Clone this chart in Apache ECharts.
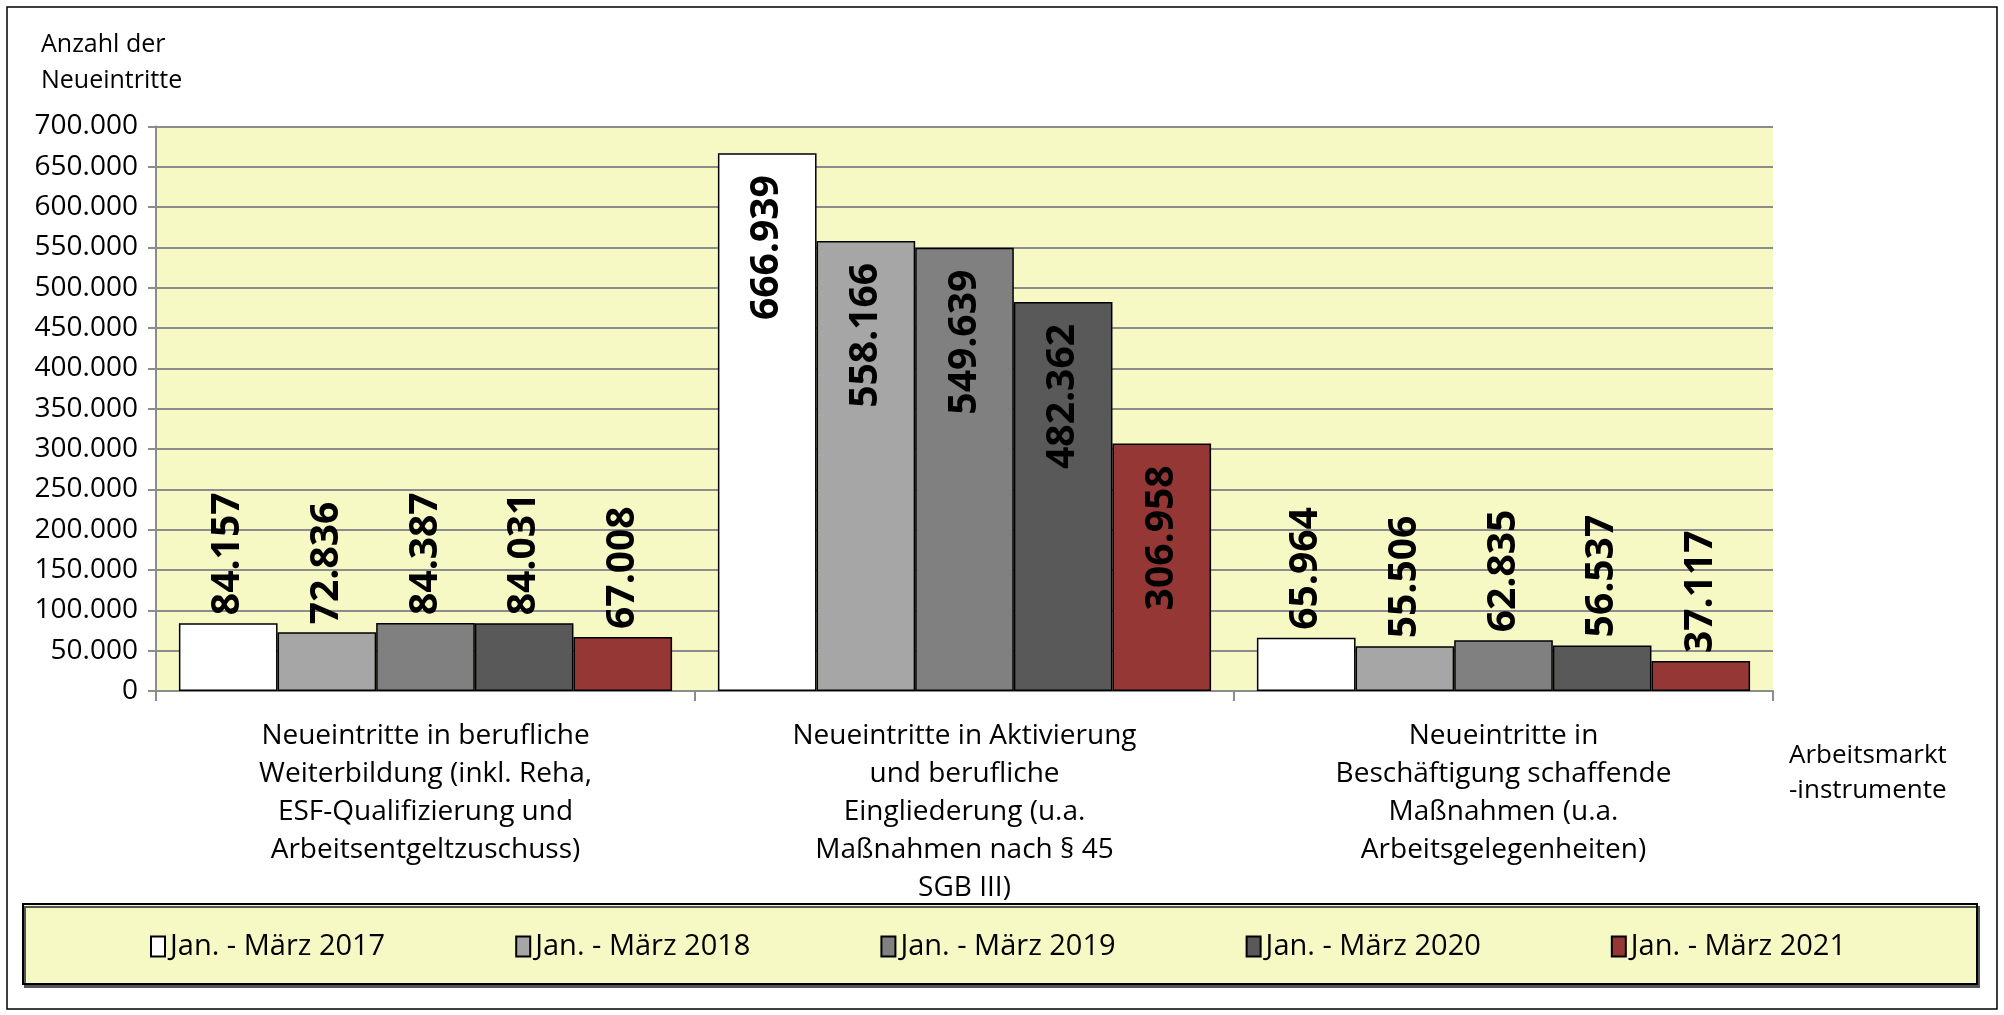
<!DOCTYPE html>
<html>
<head>
<meta charset="utf-8">
<script src="https://cdn.jsdelivr.net/npm/echarts@6/dist/echarts.min.js"></script>
<style>
  html, body { margin: 0; padding: 0; background: #fff; }
  #chart { width: 2004px; height: 1015px; }
</style>
</head>
<body>
<div id="chart"></div>
<script>
// Kategorien (Arbeitsmarktinstrumente)
const categories = [
    'Neueintritte in berufliche\nWeiterbildung (inkl. Reha,\nESF-Qualifizierung und\nArbeitsentgeltzuschuss)',
    'Neueintritte in Aktivierung\nund berufliche\nEingliederung (u.a.\nMaßnahmen nach § 45\nSGB III)',
    'Neueintritte in\nBeschäftigung schaffende\nMaßnahmen (u.a.\nArbeitsgelegenheiten)'
];
const periods = ['Jan. - März 2017', 'Jan. - März 2018', 'Jan. - März 2019', 'Jan. - März 2020', 'Jan. - März 2021'];
const values2017 = [84157, 666939, 65964];
const values2018 = [72836, 558166, 55506];
const values2019 = [84387, 549639, 62835];
const values2020 = [84031, 482362, 56537];
const values2021 = [67008, 306958, 37117];
const colors = ['#FFFFFF', '#A6A6A6', '#808080', '#595959', '#953735'];

const font = 'Open Sans';
const yellow = '#F7F9C4';

// 84157 -> "84.157"
const fmt = (v) => String(Math.round(v)).replace(/\B(?=(\d{3})+(?!\d))/g, '.');

const labelBase = {
    show: true,
    rotate: 90,
    verticalAlign: 'middle',
    fontFamily: font,
    fontSize: 39,
    fontWeight: 'bold',
    color: '#000',
    formatter: (p) => fmt(p.value)
};
const labelOutside = Object.assign({}, labelBase, { position: 'top', align: 'left', distance: 8 });
const labelInside = Object.assign({}, labelBase, { position: 'insideTop', align: 'right', distance: 22 });

const makeSeries = (name, values, color) => ({
    name: name,
    type: 'bar',
    barGap: '0%',
    barCategoryGap: '8.5%',
    itemStyle: { color: color, borderColor: '#000', borderWidth: 1.5 },
    data: values.map((v, i) => ({ value: v, label: i === 1 ? labelInside : labelOutside }))
});

const charts = echarts.init(document.getElementById('chart'));
charts.setOption({
    animation: false,
    textStyle: { fontFamily: font },
    title: {
        text: 'Anzahl der\nNeueintritte',
        left: 36,
        top: 22,
        textStyle: { fontFamily: font, fontSize: 25, fontWeight: 'normal', lineHeight: 36, color: '#000' }
    },
    grid: {
        left: 156,
        right: 231,
        top: 126.5,
        bottom: 324,
        show: true,
        backgroundColor: yellow,
        borderWidth: 0
    },
    legend: {
        left: 150,
        top: 932,
        padding: 0,
        itemWidth: 14,
        itemHeight: 20,
        itemGap: 130,
        icon: 'rect',
        textStyle: { fontFamily: font, fontSize: 29, color: '#000' },
        data: periods
    },
    xAxis: {
        type: 'category',
        data: categories,
        axisLine: { lineStyle: { color: '#8C8C8C', width: 2 } },
        axisTick: { show: true, length: 10, lineStyle: { color: '#8C8C8C', width: 2 } },
        axisLabel: { fontFamily: font, fontSize: 28, lineHeight: 38, color: '#000', margin: 26, interval: 0 }
    },
    yAxis: {
        type: 'value',
        min: 0,
        max: 700000,
        interval: 50000,
        axisLine: { show: true, lineStyle: { color: '#8C8C8C', width: 2 } },
        axisTick: { show: true, length: 8, lineStyle: { color: '#8C8C8C', width: 2 } },
        splitLine: { lineStyle: { color: '#8C8C8C', width: 2 } },
        axisLabel: { fontFamily: font, fontSize: 28, color: '#000', margin: 18, formatter: fmt }
    },
    graphic: [
        {
            type: 'rect',
            z: -1,
            shape: { x: 7, y: 7, width: 1990, height: 1002 },
            style: { fill: 'none', stroke: '#000', lineWidth: 1.5 }
        },
        {
            type: 'rect',
            z: 0,
            shape: { x: 23, y: 904, width: 1954, height: 80 },
            style: { fill: yellow, stroke: '#000', lineWidth: 2, shadowColor: '#555', shadowOffsetX: 2, shadowOffsetY: 3, shadowBlur: 0 }
        },
        {
            type: 'text',
            left: 1789,
            top: 738,
            style: { text: 'Arbeitsmarkt\n-instrumente', font: '26px "Open Sans"', lineHeight: 35, fill: '#000' }
        }
    ],
    series: [
        makeSeries(periods[0], values2017, colors[0]),
        makeSeries(periods[1], values2018, colors[1]),
        makeSeries(periods[2], values2019, colors[2]),
        makeSeries(periods[3], values2020, colors[3]),
        makeSeries(periods[4], values2021, colors[4])
    ]
});
</script>
</body>
</html>
